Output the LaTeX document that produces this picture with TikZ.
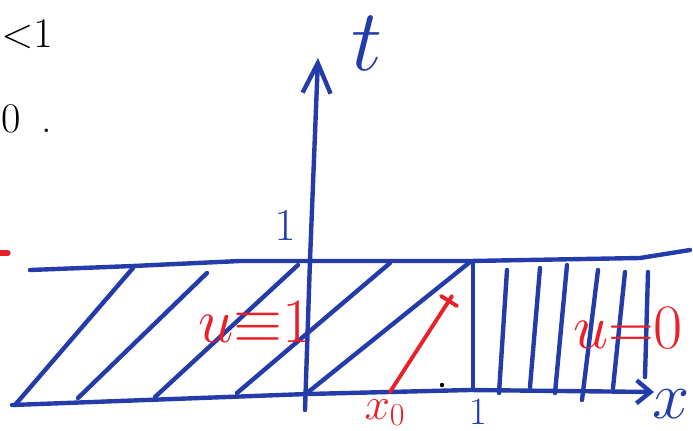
\documentclass[tikz,border=0pt]{standalone}
\usepackage{fix-cm}
\usetikzlibrary{arrows.meta}
\definecolor{penblue}{RGB}{35,60,170}
\definecolor{penred}{RGB}{232,32,40}

\begin{document}
\begin{tikzpicture}[x=0.02cm,y=-0.02cm,line cap=round,line join=round,
  pen/.style={penblue,line width=2.5pt},
  redpen/.style={penred,line width=2.2pt},
  big/.style={font=\fontsize{#1}{#1}\selectfont,inner sep=0pt}]
  \clip (0,0) rectangle (693,430);
  % 左端で切れた書き込み
  \node[big=24,anchor=west] (ineq) at (1,34) {$\mathord{<}1$};
  \node[big=24,anchor=west] (zero) at (1,119) {0\enspace.};
  \draw[redpen,line width=3pt] (-5,253) -- (8,253);
  % 帯 0<t<1 の上の線 (t=1)
  \draw[pen] (30,270) -- (133,266) -- (240,261) -- (470,261) -- (640,258) -- (690,250);
  % u=1 の領域：斜めの特性線
  \foreach \xa/\ya/\xb/\yb in {15/405/133/268, 78/398/207/273, 155/397/298/265,
      237/393/390/263, 307/393/470/262}
    {\draw[pen] (\xa,\ya) -- (\xb,\yb);}
  % u=0 の領域：縦の特性線
  \foreach \xa/\ya/\xb/\yb in {473/262/473/390, 507/270/499/393, 540/268/530/387,
      567/265/555/393, 598/270/582/400, 625/272/613/388, 648/272/645/377}
    {\draw[pen] (\xa,\ya) -- (\xb,\yb);}
  % 座標軸
  \draw[pen,-{Straight Barb[length=2.8mm,width=4.6mm]}] (12,405) -- (307,394) -- (470,390) -- (654,392);
  \draw[pen,-{Straight Barb[length=6mm,width=5.6mm]}] (305,410) -- (310,260) -- (318,58);
  \node[big=50,penblue] (tlab) at (367,43) {$t$};
  \node[big=38,penblue] (xlab) at (671,404) {$x$};
  \node[big=26,penblue] (tone) at (285,226) {$1$};
  \node[big=22,penblue,anchor=north] (xone) at (478,399) {$1$};
  % x_0 から出る特性線
  \coordinate (xz) at (390,392);
  \coordinate (xend) at (452,296);
  \draw[redpen] (xz) -- (xend);
  \draw[redpen] (441,296) -- (457,306);
  \fill (442,385) circle (2.2);
  \node[big=26,penred,anchor=north] (xzero) at (385,399) {$x_0$};
  % 各領域での値
  \node[big=36,penred] (uone) at (255,322) {$u{\equiv}1$};
  \node[big=36,penred] (uzero) at (628,328) {$u{=}0$};
\end{tikzpicture}
\end{document}
